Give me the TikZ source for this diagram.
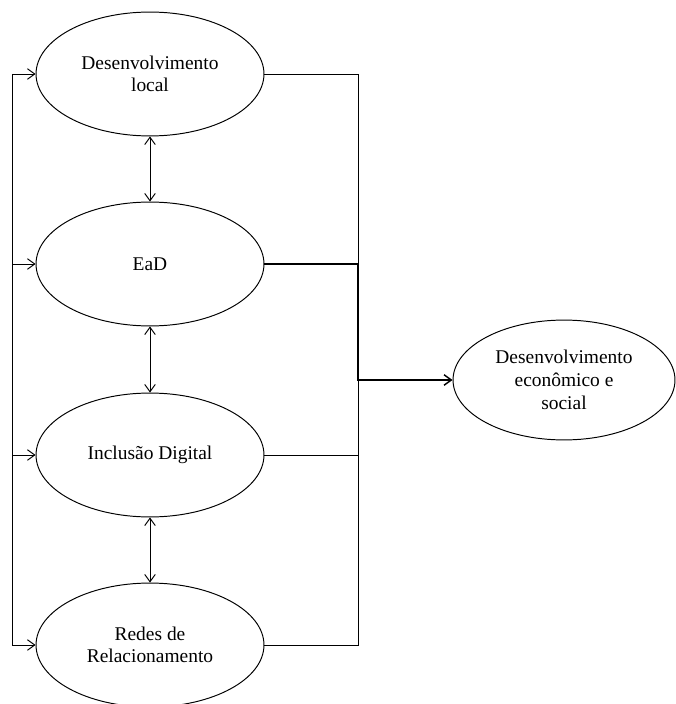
\documentclass[tikz,border=0pt]{standalone}
\usepackage{fontspec}
\setmainfont{Liberation Serif}
\usetikzlibrary{arrows.meta, positioning, calc, shapes.geometric}

\tikzset{
  bloco/.style={ellipse, draw, line width=0.6pt, minimum width=140.7pt, minimum height=76.5pt,
    inner sep=0pt, align=center, font=\fontsize{12}{14}\selectfont},
  fim/.style={bloco, minimum width=137pt, minimum height=74pt},
  liga/.style={line width=0.6pt},
  seta/.style={line width=0.6pt, -{Straight Barb[length=4.5pt, width=6.5pt]}},
  dupla/.style={line width=0.6pt, {Straight Barb[length=4.5pt, width=6.5pt]}-{Straight Barb[length=4.5pt, width=6.5pt]}}
}

\begin{document}
\begin{tikzpicture}[x=0.6173pt, y=-0.6173pt]
  \useasboundingbox (0,0) rectangle (675,704);

  % Define the ellipses
  \node[bloco] (local) at (150,74) {Desenvolvimento\\local};
  \node[bloco] (ead) at (150,264) {EaD};
  \node[bloco] (inclusao) at (150,455) {Inclusão Digital};
  \node[bloco] (redes) at (150,645) {Redes de\\Relacionamento};
  \node[fim] (social) at (564,380) {Desenvolvimento\\econômico e\\social};

  % Define the coordinates for the vertical lines
  \coordinate (esqTopo) at (12,74);
  \coordinate (esqBase) at (12,645);
  \coordinate (dirMeio) at (358,380);

  % Draw the line on the left and its arrows
  \draw[liga] (esqTopo) -- (esqBase);
  \draw[seta] (esqTopo) -- (local.west);
  \draw[seta] (ead.west -| esqTopo) -- (ead.west);
  \draw[seta] (inclusao.west -| esqTopo) -- (inclusao.west);
  \draw[seta] (esqBase) -- (redes.west);

  % Draw the arrows between the ellipses
  \draw[dupla] (local) -- (ead);
  \draw[dupla] (ead) -- (inclusao);
  \draw[dupla] (inclusao) -- (redes);

  % Draw the lines on the right
  \draw[liga] (local.east) -| (dirMeio);
  \draw[liga] (redes.east) -| (dirMeio);
  \draw[liga] (inclusao.east) -- (inclusao.east -| dirMeio);
  \draw[seta, line width=0.9pt] (ead.east) -| (dirMeio) -- (social.west);
\end{tikzpicture}
\end{document}
